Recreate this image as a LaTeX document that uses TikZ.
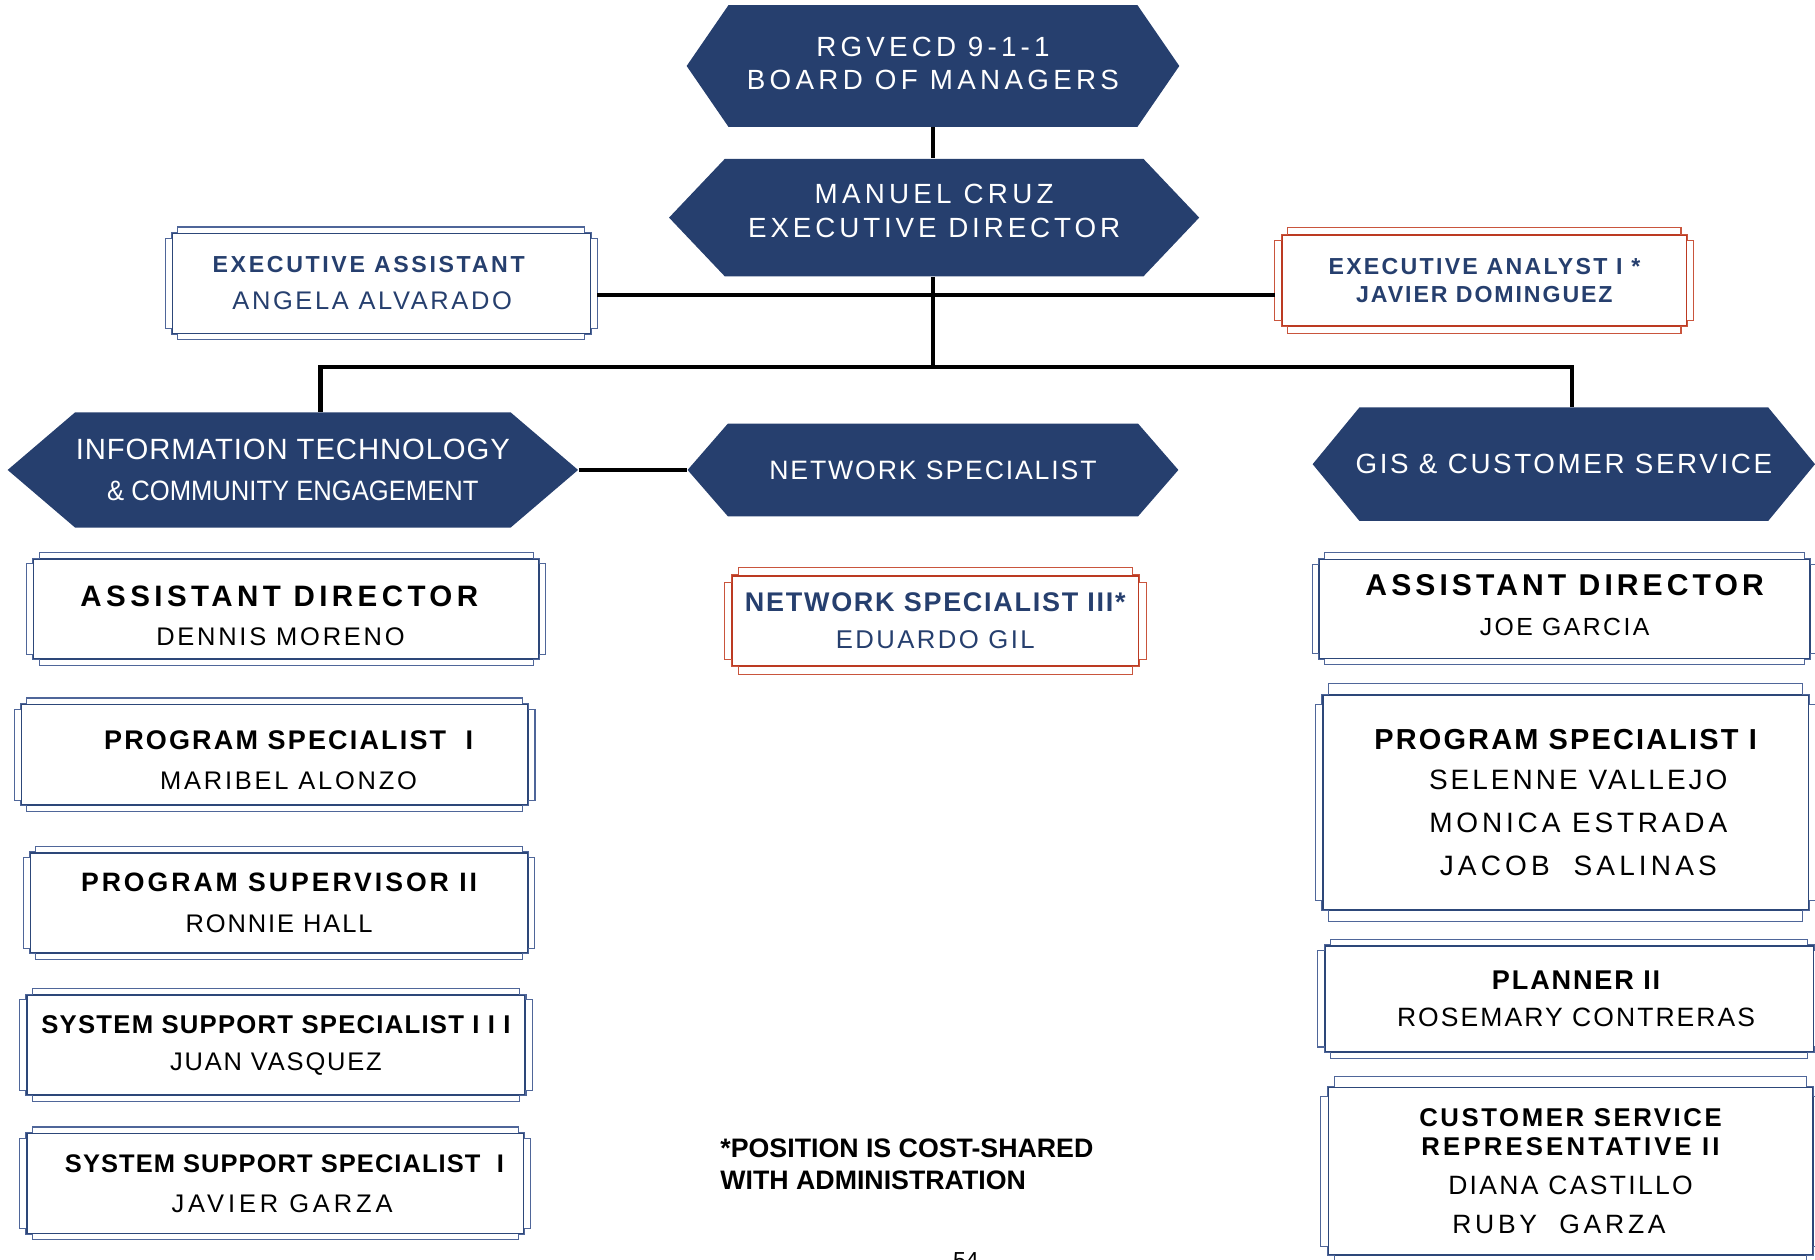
\documentclass[tikz,border=0pt]{standalone}
\usepackage{fontspec}
\setmainfont{Liberation Sans}
\usetikzlibrary{shapes.symbols}
\definecolor{navy}{HTML}{263F6E}
\definecolor{framenavy}{HTML}{2D4779}
\definecolor{framenavylt}{HTML}{4F6699}
\definecolor{framered}{HTML}{BC3A22}
\definecolor{frameredlt}{HTML}{C9553D}
\newcommand\ls[2]{{\addfontfeatures{LetterSpace=#1}#2}}
\newcommand\fs[2]{\fontsize{#1}{#2}\selectfont}
\begin{document}
\begin{tikzpicture}
[x=0.5pt, y=-0.5pt,
 hexnode/.style={signal, signal to=west and east, signal pointer angle=#1,
   fill=navy, text=white, inner sep=0pt, align=center},
 orgbox/.style={draw=#1, line width=0.7pt, fill=white, inner sep=0pt, align=center},
 conn/.style={line width=1.6pt},
 busline/.style={line width=2pt},
 thinframe/.style={draw=#1, line width=0.45pt}]
\useasboundingbox (0,0) rectangle (1568,1088);
%% top of the chart
\node[hexnode=111, minimum width=212.8pt, minimum height=52.6pt, font=\fs{12}{14.3}, text depth=2pt]
  (board) at (806,57) {\ls{15}{RGVECD 9-1-1}\\\ls{15.5}{BOARD OF MANAGERS}};
\node[hexnode=93, minimum width=229pt, minimum height=50.75pt, font=\fs{12}{14.9}, text depth=6pt]
  (ed) at (807,188) {\ls{15.3}{MANUEL CRUZ}\\\ls{14}{EXECUTIVE DIRECTOR}};
\node[orgbox=framenavy, text=navy, font=\fs{11}{16}, minimum width=180.5pt, minimum height=43.2pt]
  (ea) at (329.5,244.8) {{\fs{10}{16}\bfseries\ls{11.4}{EXECUTIVE ASSISTANT}}\hspace*{11pt}\\\ls{10.3}{ANGELA ALVARADO}\hspace*{8pt}};
\node[orgbox=framered, text=navy, font=\fs{10}{12.25}\bfseries, minimum width=174.7pt, minimum height=39.3pt]
  (ean) at (1282.4,242.3) {\ls{9.8}{EXECUTIVE ANALYST I *}\\\ls{8.2}{JAVIER DOMINGUEZ}};
%% division heads
\node[hexnode=81, minimum width=246.4pt, minimum height=49.85pt, font=\fs{12.65}{17.6}]
  (it) at (253,406) {\ls{3.1}{INFORMATION TECHNOLOGY}\\{\fs{12.1}{17.6}\scalebox{0.914}[1]{\& COMMUNITY ENGAGEMENT}}};
\node[hexnode=98, minimum width=212pt, minimum height=40pt, font=\fs{11.5}{14}]
  (ns) at (806,406) {\ls{7}{NETWORK SPECIALIST}};
\node[hexnode=101, minimum width=217pt, minimum height=49pt, font=\fs{12}{14}]
  (gis) at (1351,401) {\makebox[165pt]{\ls{9.4}{GIS \& CUSTOMER SERVICE}}};
%% left column
\node[orgbox=framenavy, font=\fs{11}{16.8}, minimum width=218.2pt, minimum height=43.2pt]
  (ad1) at (247.3,526.1) {\rule{0pt}{14.6pt}{\fs{12.75}{16.8}\bfseries\ls{15}{ASSISTANT DIRECTOR}}\hspace*{6pt}\\\ls{10.9}{DENNIS MORENO}\hspace*{5pt}};
\node[orgbox=framenavy, font=\fs{11}{17.5}, minimum width=218.8pt, minimum height=43.5pt]
  (ps1) at (237.3,652) {\rule{0pt}{12.8pt}\hspace*{12pt}{\fs{11.65}{17.5}\bfseries\ls{8.1}{PROGRAM SPECIALIST~~I}}\\\hspace*{12pt}\ls{10.9}{MARIBEL ALONZO}};
\node[orgbox=framenavy, font=\fs{11}{17.5}, minimum width=214.9pt, minimum height=43.2pt]
  (psup) at (241.1,779.9) {{\fs{11.5}{17.5}\bfseries\ls{11.1}{PROGRAM SUPERVISOR II}}\\\ls{7.5}{RONNIE HALL}};
\node[orgbox=framenavy, font=\fs{11}{16}, minimum width=215.3pt, minimum height=43.2pt]
  (sss3) at (238.4,902.8) {{\fs{11.1}{16}\bfseries\ls{4.8}{SYSTEM SUPPORT SPECIALIST I I I}}\\\ls{7.2}{JUAN VASQUEZ}};
\node[orgbox=framenavy, font=\fs{11}{17.3}, minimum width=214.6pt, minimum height=43.2pt]
  (sss1) at (237.7,1022.3) {\hspace*{8pt}{\fs{11}{17.3}\bfseries\ls{4.2}{SYSTEM SUPPORT SPECIALIST~~I}}\\\hspace*{6pt}\ls{15.3}{JAVIER GARZA}};
%% middle column
\node[orgbox=framered, text=navy, font=\fs{11.1}{16.2}, minimum width=175.4pt, minimum height=39pt]
  (ns3) at (808,536.4) {{\fs{11.65}{16.2}\bfseries\ls{6.4}{NETWORK SPECIALIST III*}}\\\ls{9.5}{EDUARDO GIL}};
\node[anchor=north west, inner sep=0pt, align=left, font=\fs{11.55}{13.95}\bfseries]
  (note) at (622,983.4) {*POSITION IS COST-SHARED\\WITH ADMINISTRATION};
\node[anchor=north west, inner sep=0pt, font=\fs{10}{12}] (page) at (823,1081.4) {54};
%% right column
\node[orgbox=framenavy, font=\fs{10.7}{17.3}, minimum width=212pt, minimum height=42.8pt, text depth=3pt]
  (ad2) at (1351.7,526) {{\fs{13}{17.3}\bfseries\ls{13.5}{ASSISTANT DIRECTOR}}\\\ls{9.8}{JOE GARCIA}};
\node[orgbox=framenavy, font=\fs{12.1}{18.6}, minimum width=209.8pt, minimum height=92.9pt]
  (ps2) at (1352.5,693.3) {{\fs{12.5}{18.6}\bfseries\ls{7.5}{PROGRAM SPECIALIST I}}\\[-1.6pt]
  \hspace*{11pt}\ls{10.7}{SELENNE VALLEJO}\\\hspace*{11pt}\ls{13.6}{MONICA ESTRADA}\\\hspace*{11pt}\ls{14.8}{JACOB~~SALINAS}};
\node[orgbox=framenavy, font=\fs{11.45}{16.1}, minimum width=211pt, minimum height=45.8pt]
  (pl) at (1355.6,862.8) {\hspace*{6pt}{\fs{11.7}{16.1}\bfseries\ls{6.8}{PLANNER II}}\\\hspace*{6pt}\ls{7.8}{ROSEMARY CONTRERAS}};
\node[orgbox=framenavy, font=\fs{11.45}{16.85}, minimum width=209.2pt, minimum height=72.4pt]
  (csr) at (1356.8,1011.8) {{\fs{11.1}{12.65}\bfseries\ls{10.1}{CUSTOMER SERVICE}}\\[-4.2pt]
  {\fs{11.1}{12.65}\bfseries\ls{12.4}{REPRESENTATIVE II}}\\\ls{8.8}{DIANA CASTILLO}\hspace*{10pt}\\\ls{14.1}{RUBY~~GARZA}\hspace*{10pt}};
%% stepped outer frames
\foreach \n/\c/\a/\b in {ea/framenavylt/2.7pt/2.4pt, ean/frameredlt/2.8pt/2.9pt,
  ns3/frameredlt/3pt/3.2pt, ad1/framenavylt/2.7pt/2.4pt, ps1/framenavylt/2.7pt/2.4pt,
  psup/framenavylt/2.7pt/2.4pt, sss3/framenavylt/2.7pt/2.4pt, sss1/framenavylt/2.7pt/2.4pt,
  ad2/framenavylt/2.7pt/2.4pt, ps2/framenavylt/2.8pt/4.6pt, pl/framenavylt/2.7pt/2.4pt,
  csr/framenavylt/2.9pt/4.2pt} {
  \draw[thinframe=\c] ([shift={(\a,\b)}]\n.north west) -- ([shift={(-\a,\b)}]\n.north east)
    -- ++(0pt,-\b) -- ++(\a,0pt) -- ++(0pt,-\b) -- ++(\a,0pt)
    -- ([shift={(\a,\b)}]\n.south east) -- ++(-\a,0pt) -- ++(0pt,-\b) -- ++(-\a,0pt) -- ++(0pt,-\b)
    -- ([shift={(\a,-\b)}]\n.south west) -- ++(0pt,\b) -- ++(-\a,0pt) -- ++(0pt,\b) -- ++(-\a,0pt)
    -- ([shift={(-\a,-\b)}]\n.north west) -- ++(\a,0pt) -- ++(0pt,\b) -- ++(\a,0pt) -- cycle;
}
%% connectors
\coordinate (lvl) at (806,255);
\coordinate (bus) at (806,317);
\coordinate (busl) at (277,317);
\coordinate (busr) at (1358,317);
\draw[conn] (board.south) -- (board.south |- ed.north);
\draw[conn] ([xshift=2.7pt]ea.east |- lvl) -- ([xshift=-2.8pt]ean.west |- lvl);
\draw[conn] (ed.south -| bus) -- (bus);
\draw[busline] (it.north -| busl) -- (busl) -- (busr) -- (gis.north -| busr);
\draw[conn] (it.east) -- (ns.west);
\end{tikzpicture}
\end{document}
